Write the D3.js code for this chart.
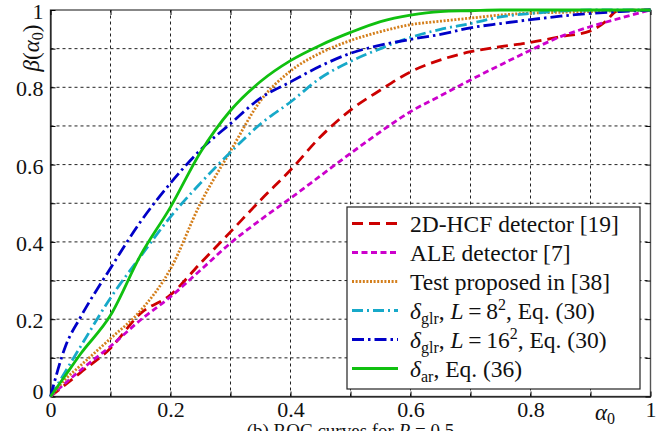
<!DOCTYPE html>
<html>
<head>
<meta charset="utf-8">
<script src="https://cdn.jsdelivr.net/npm/d3@7"></script>
<style>
  body { margin: 0; background: #fff; }
  svg text { fill: #111; }
</style>
</head>
<body>
<script>
// false alarm axis, shared by most curves
const ALPHA = [0, 0.025, 0.05, 0.1, 0.15, 0.2, 0.25, 0.3, 0.35, 0.4, 0.45, 0.5,
  0.55, 0.6, 0.65, 0.7, 0.75, 0.8, 0.85, 0.9, 0.95, 1];

// 2D-HCF has its own abscissa (sharp rise near 0.93)
const ALPHA_HCF = [0, 0.05, 0.1, 0.15, 0.2, 0.25, 0.3, 0.35, 0.4, 0.45, 0.5, 0.55,
  0.6, 0.65, 0.7, 0.75, 0.8, 0.85, 0.9, 0.925, 0.945, 1];
const BETA_HCF = [0, 0.062, 0.125, 0.215, 0.263, 0.345, 0.426, 0.508, 0.586, 0.672, 0.741, 0.793,
  0.84, 0.871, 0.892, 0.905, 0.916, 0.931, 0.946, 0.97, 0.998, 1];

const BETA_ALE = [0, 0.035, 0.068, 0.13, 0.198, 0.258, 0.327, 0.397, 0.457, 0.513, 0.571, 0.629,
  0.685, 0.737, 0.778, 0.819, 0.858, 0.896, 0.931, 0.957, 0.979, 1];
const BETA_TEST = [0, 0.045, 0.08, 0.15, 0.222, 0.33, 0.5, 0.635, 0.765, 0.842, 0.889, 0.921,
  0.944, 0.962, 0.971, 0.979, 0.987, 0.992, 0.994, 0.996, 0.998, 1];
const BETA_GLR8 = [0, 0.065, 0.129, 0.255, 0.362, 0.465, 0.552, 0.632, 0.705, 0.762, 0.824, 0.867,
  0.9, 0.929, 0.95, 0.965, 0.982, 0.991, 0.997, 1, 1, 1];
const BETA_GLR16 = [0, 0.13, 0.205, 0.332, 0.452, 0.552, 0.638, 0.706, 0.772, 0.814, 0.855, 0.888,
  0.909, 0.924, 0.937, 0.954, 0.965, 0.975, 0.984, 0.991, 0.996, 1];
const BETA_AR = [0, 0.055, 0.11, 0.21, 0.365, 0.49, 0.632, 0.74, 0.815, 0.869, 0.909, 0.942,
  0.97, 0.987, 0.996, 0.998, 1, 1, 1, 1, 1, 1];

const X_TICKS = [0, 0.2, 0.4, 0.6, 0.8, 1];
const Y_TICKS = [0, 0.2, 0.4, 0.6, 0.8, 1];
const GRID = [0.1, 0.2, 0.3, 0.4, 0.5, 0.6, 0.7, 0.8, 0.9];

const width = 667;
const height = 431;
const SERIF = '"Liberation Serif", "DejaVu Serif", "Noto Serif", "Times New Roman", Times, "Nimbus Roman", "Nimbus Roman No9 L", FreeSerif, Georgia, serif';

const xScale = d3.scaleLinear().domain([0, 1]).range([50.5, 650.5]);
const yScale = d3.scaleLinear().domain([0, 1]).range([396.5, 10]);

const series = [
  { x: ALPHA_HCF, y: BETA_HCF, color: "#cc0000", dash: "11,6" },
  { x: ALPHA, y: BETA_ALE, color: "#cc00cc", dash: "6,3.5" },
  { x: ALPHA, y: BETA_TEST, color: "#d47f1c", dash: "2,1.6" },
  { x: ALPHA, y: BETA_GLR8, color: "#17a9c9", dash: "11,4,2,4" },
  { x: ALPHA, y: BETA_GLR16, color: "#0000c8", dash: "12,4,2.5,4" },
  { x: ALPHA, y: BETA_AR, color: "#10c010", dash: null }
];

document.addEventListener("DOMContentLoaded", function () {
  let svg = d3.select("body").append("svg")
    .attr("width", width)
    .attr("height", height)
    .style("font-family", SERIF);

  // grid
  let grid = svg.append("g")
    .attr("stroke", "#222")
    .attr("stroke-width", 1)
    .attr("stroke-dasharray", "3,3");
  grid.selectAll(".gx").data(GRID).enter().append("line")
    .attr("x1", d => xScale(d)).attr("x2", d => xScale(d))
    .attr("y1", yScale(0)).attr("y2", yScale(1));
  grid.selectAll(".gy").data(GRID).enter().append("line")
    .attr("y1", d => yScale(d)).attr("y2", d => yScale(d))
    .attr("x1", xScale(0)).attr("x2", xScale(1));

  // box
  svg.append("rect")
    .attr("x", xScale(0)).attr("y", yScale(1))
    .attr("width", xScale(1) - xScale(0))
    .attr("height", yScale(0) - yScale(1))
    .attr("fill", "none").attr("stroke", "#555").attr("stroke-width", 1.4);

  // axes with inward ticks every 0.1
  const tickVals = [0].concat(GRID).concat([1]);
  svg.append("g")
    .attr("transform", "translate(0," + yScale(0) + ")")
    .call(d3.axisBottom(xScale).tickValues(tickVals).tickSizeInner(-5).tickSizeOuter(0)
      .tickFormat(d => X_TICKS.some(t => Math.abs(t - d) < 1e-9) ? d3.format("")(d) : ""))
    .call(g => g.attr("font-family", null).style("font-family", SERIF))
    .call(g => g.selectAll("text").attr("font-size", 22).attr("dy", null).attr("y", 20.5))
    .call(g => g.selectAll("line, path").attr("stroke", "#000"));
  svg.append("g")
    .attr("transform", "translate(" + xScale(0) + ",0)")
    .call(d3.axisLeft(yScale).tickValues(tickVals).tickSizeInner(-5).tickSizeOuter(0)
      .tickFormat(d => Y_TICKS.some(t => Math.abs(t - d) < 1e-9) ? d3.format("")(d) : ""))
    .call(g => g.attr("font-family", null).style("font-family", SERIF))
    .call(g => g.selectAll("text").attr("font-size", 22).attr("x", -7)
      .attr("dy", d => d === 1 ? "8" : (d === 0 ? "2" : "8.5")))
    .call(g => g.selectAll("line, path").attr("stroke", "#000"));
  svg.append("g")
    .attr("transform", "translate(" + xScale(1) + ",0)")
    .call(d3.axisRight(yScale).tickValues(tickVals).tickSizeInner(-5).tickSizeOuter(0).tickFormat(""))
    .call(g => g.select("path").remove())
    .call(g => g.selectAll("line").attr("stroke", "#000"));
  svg.append("g")
    .attr("transform", "translate(0," + yScale(1) + ")")
    .call(d3.axisTop(xScale).tickValues(tickVals).tickSizeInner(-5).tickSizeOuter(0).tickFormat(""))
    .call(g => g.select("path").remove())
    .call(g => g.selectAll("line").attr("stroke", "#000"));

  // curves
  const line = d3.line()
    .curve(d3.curveMonotoneX)
    .x(d => xScale(d[0]))
    .y(d => yScale(d[1]));
  svg.selectAll(".curve").data(series).enter().append("path")
    .attr("d", s => line(s.x.map((v, i) => [v, s.y[i]])))
    .attr("fill", "none")
    .attr("stroke", s => s.color)
    .attr("stroke-width", 2.8)
    .attr("stroke-dasharray", s => s.dash);

  // axis labels
  let yl = svg.append("text")
    .attr("transform", "translate(39,48) rotate(-90)")
    .attr("text-anchor", "middle")
    .attr("font-size", 23);
  yl.append("tspan").attr("font-style", "italic").text("β");
  yl.append("tspan").text("(");
  yl.append("tspan").attr("font-style", "italic").text("α");
  yl.append("tspan").attr("font-size", 16).attr("dy", 4).text("0");
  yl.append("tspan").attr("dy", -4).text(")");

  let xl = svg.append("text")
    .attr("x", 595).attr("y", 420)
    .attr("font-size", 23);
  xl.append("tspan").attr("font-style", "italic").text("α");
  xl.append("tspan").attr("font-size", 16).attr("dy", 4).text("0");

  // caption (cut off by the bottom edge, as in the reference)
  let cap = svg.append("text")
    .attr("x", 350.5).attr("y", 437)
    .attr("text-anchor", "middle")
    .attr("font-size", 19);
  cap.append("tspan").text("(b) ROC curves for ");
  cap.append("tspan").attr("font-style", "italic").text("R");
  cap.append("tspan").text(" = 0.5");

  // legend
  let lg = svg.append("g");
  lg.append("rect")
    .attr("x", 347).attr("y", 207).attr("width", 293).attr("height", 182)
    .attr("fill", "#fff").attr("stroke", "#222").attr("stroke-width", 1.2);

  const rowY = i => 231.5 + i * 29;
  lg.selectAll(".ls").data(series).enter().append("line")
    .attr("x1", 352).attr("x2", 398)
    .attr("y1", (d, i) => rowY(i) - 8).attr("y2", (d, i) => rowY(i) - 8)
    .attr("stroke", d => d.color)
    .attr("stroke-width", 2.8)
    .attr("stroke-dasharray", d => d.dash);

  const fs = 23.5;
  function row(i) {
    return lg.append("text").attr("x", 410).attr("y", rowY(i)).attr("font-size", fs);
  }
  row(0).text("2D-HCF detector [19]");
  row(1).text("ALE detector [7]");
  row(2).text("Test proposed in [38]");

  function glr(i, L) {
    let t = row(i);
    t.append("tspan").attr("font-style", "italic").text("δ");
    t.append("tspan").attr("font-size", 16).attr("dy", 5).text("glr");
    t.append("tspan").attr("dy", -5).text(", ");
    t.append("tspan").attr("font-style", "italic").text("L");
    t.append("tspan").text("\u2009=\u2009" + L);
    t.append("tspan").attr("font-size", 16).attr("dy", -9).text("2");
    t.append("tspan").attr("dy", 9).text(", Eq. (30)");
  }
  glr(3, "8");
  glr(4, "16");

  let ar = row(5);
  ar.append("tspan").attr("font-style", "italic").text("δ");
  ar.append("tspan").attr("font-size", 16).attr("dy", 5).text("ar");
  ar.append("tspan").attr("dy", -5).text(", Eq. (36)");
});
</script>
</body>
</html>
